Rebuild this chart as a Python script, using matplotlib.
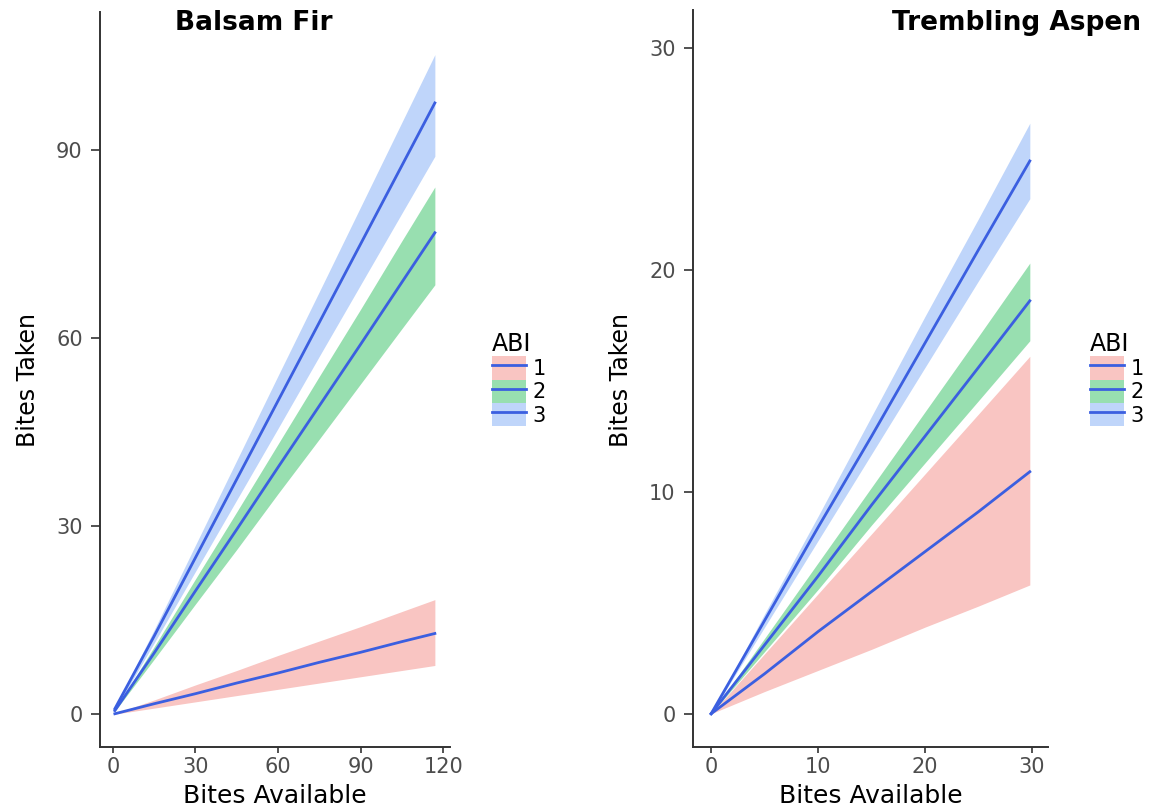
import matplotlib
matplotlib.use("Agg")
import matplotlib.pyplot as plt
from matplotlib.patches import Patch
from matplotlib.lines import Line2D

# Balsam Fir (left panel)
fir_x = [0.7, 15, 30, 45, 60, 75, 90, 105, 117]
fir_mid = {
    "1": [0.1, 1.7, 3.3, 5.0, 6.6, 8.3, 9.9, 11.6, 12.9],
    "2": [0.6, 9.8, 19.7, 29.5, 39.4, 49.2, 59.0, 68.9, 76.8],
    "3": [0.9, 12.5, 25.0, 37.5, 50.0, 62.5, 75.0, 87.5, 97.5],
}
fir_lo = {
    "1": [0.05, 1.0, 2.0, 3.0, 4.0, 5.0, 6.0, 7.0, 7.8],
    "2": [0.5, 8.8, 17.6, 26.3, 35.2, 43.9, 52.7, 61.5, 68.5],
    "3": [0.7, 11.4, 22.8, 34.2, 45.6, 57.1, 68.5, 79.9, 89.0],
}
fir_hi = {
    "1": [0.15, 2.3, 4.7, 7.0, 9.4, 11.7, 14.0, 16.4, 18.3],
    "2": [0.7, 10.8, 21.6, 32.3, 43.1, 53.9, 64.6, 75.5, 84.1],
    "3": [1.1, 13.5, 27.0, 40.5, 54.0, 67.4, 80.9, 94.4, 105.2],
}

# Trembling Aspen (right panel)
asp_x = [0, 5, 10, 15, 20, 25, 29.8]
asp_mid = {
    "1": [0, 1.8, 3.7, 5.5, 7.3, 9.1, 10.9],
    "2": [0, 3.1, 6.2, 9.4, 12.5, 15.6, 18.6],
    "3": [0, 4.2, 8.4, 12.5, 16.7, 20.9, 24.9],
}
asp_lo = {
    "1": [0, 1.0, 1.95, 2.9, 3.9, 4.85, 5.8],
    "2": [0, 2.8, 5.6, 8.5, 11.3, 14.1, 16.8],
    "3": [0, 3.9, 7.8, 11.7, 15.6, 19.5, 23.2],
}
asp_hi = {
    "1": [0, 2.7, 5.4, 8.1, 10.8, 13.5, 16.1],
    "2": [0, 3.4, 6.8, 10.2, 13.6, 17.0, 20.3],
    "3": [0, 4.5, 8.9, 13.4, 17.9, 22.3, 26.6],
}

abi_levels = ["1", "2", "3"]
fill_colors = {"1": "#F9C5C2", "2": "#98DFB0", "3": "#BFD5FA"}
line_color = "#3B5FE0"
axis_color = "#333333"

W, H = 1167, 811
fig = plt.figure(figsize=(W / 100, H / 100), dpi=100)

def px_axes(x0, x1, y_top, y_bot):
    return fig.add_axes([x0 / W, 1 - y_bot / H, (x1 - x0) / W, (y_bot - y_top) / H])

def style(ax, xticks, yticks, xlim, ylim):
    for s in ["top", "right"]:
        ax.spines[s].set_visible(False)
    for s in ["left", "bottom"]:
        ax.spines[s].set_color(axis_color)
        ax.spines[s].set_linewidth(1.4)
    ax.set_xticks(xticks)
    ax.set_yticks(yticks)
    ax.set_xlim(*xlim)
    ax.set_ylim(*ylim)
    ax.tick_params(colors=axis_color, labelcolor="#4D4D4D", labelsize=15,
                   width=1.2, direction="out")
    ax.tick_params(axis="x", length=4.5, pad=3)
    ax.tick_params(axis="y", length=6.5, pad=6)

def draw(ax, x, mid, lo, hi):
    for k in abi_levels:
        ax.fill_between(x, lo[k], hi[k], color=fill_colors[k], lw=0, zorder=1)
    for k in abi_levels:
        ax.plot(x, mid[k], color=line_color, lw=2, zorder=3)

ax1 = px_axes(100, 450, 12, 747)
draw(ax1, fir_x, fir_mid, fir_lo, fir_hi)
style(ax1, [0, 30, 60, 90, 120], [0, 30, 60, 90], (-4.7, 122.5), (-5.2, 112))

ax2 = px_axes(693, 1048, 10, 747)
draw(ax2, asp_x, asp_mid, asp_lo, asp_hi)
style(ax2, [0, 10, 20, 30], [0, 10, 20, 30], (-1.7, 31.5), (-1.5, 31.7))

fig.text(254 / W, 1 - 23 / H, "Balsam Fir", ha="center", va="center",
         fontsize=19, fontweight="bold")
fig.text(1016 / W, 1 - 23 / H, "Trembling Aspen", ha="center", va="center",
         fontsize=19, fontweight="bold")
for xc in [275, 871]:
    fig.text(xc / W, 1 - 796 / H, "Bites Available", ha="center", va="center", fontsize=18)
for xc in [28, 621]:
    fig.text(xc / W, 1 - 380 / H, "Bites Taken", ha="center", va="center",
             fontsize=17, rotation=90)

handles = [(Patch(facecolor=fill_colors[k], edgecolor="none"),
            Line2D([], [], color=line_color, lw=2)) for k in abi_levels]
for lx in [488, 1086]:
    leg = fig.legend(handles, abi_levels, title="ABI", loc="upper left",
                     bbox_to_anchor=(lx / W, 1 - 328 / H), frameon=False,
                     fontsize=15, title_fontsize=17, handlelength=1.6,
                     handleheight=1.35, labelspacing=0, handletextpad=0.35,
                     borderpad=0.2, borderaxespad=0)
    leg._legend_box.align = "left"

fig.savefig("out.png", dpi=100)
